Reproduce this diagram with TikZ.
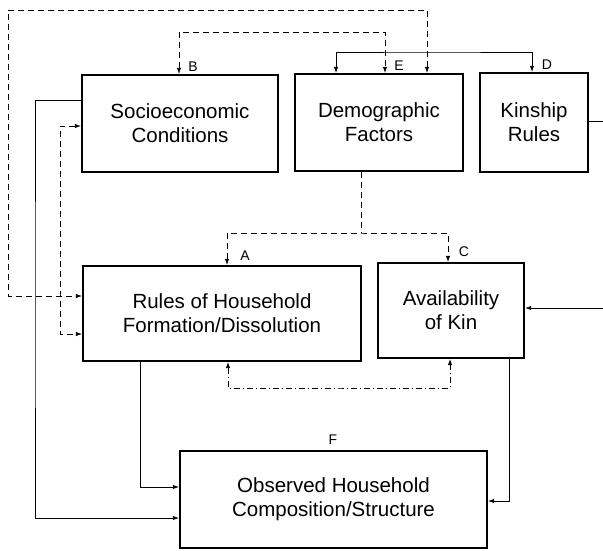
\documentclass[tikz,border=0pt]{standalone}
\usepackage{fontspec}
\setmainfont{Liberation Sans}
\usetikzlibrary{arrows.meta}
\tikzset{
  box/.style={draw, line width=2.2pt, align=center, inner sep=0pt,
    font=\fontsize{20.5}{24}\selectfont},
  tag/.style={font=\fontsize{14}{16}\selectfont, inner sep=0pt},
  dashlink/.style={dash pattern=on 6pt off 4pt},
  dotlink/.style={dash pattern=on 6pt off 3pt on 1pt off 3pt},
}
\begin{document}
\begin{tikzpicture}[x=1pt, y=-1pt, line width=0.8pt, >={Latex[length=6pt,width=4.5pt]}]
\useasboundingbox (0,0) rectangle (603,551);
% boxes
\node[box, minimum width=196pt, minimum height=97pt] (socio) at (180,123.5) {Socioeconomic\\Conditions};
\node[box, minimum width=168pt, minimum height=97pt] (demog) at (379,122.5) {Demographic\\Factors};
\node[box, minimum width=108pt, minimum height=99pt] (kinship) at (534,122.5) {Kinship\\Rules};
\node[box, minimum width=278pt, minimum height=95pt] (rules) at (222,313.5) {Rules of Household\\Formation/Dissolution};
\node[box, minimum width=146pt, minimum height=95pt] (avail) at (451,310.5) {Availability\\of Kin};
\node[box, minimum width=307pt, minimum height=97pt] (observed) at (333.5,499.5) {Observed Household\\Composition/Structure};
% letters
\node[tag] (tagB) at (193,67) {B};
\node[tag] (tagE) at (399,66) {E};
\node[tag] (tagD) at (547,65) {D};
\node[tag] (tagA) at (245,256) {A};
\node[tag] (tagC) at (464,252) {C};
\node[tag] (tagF) at (333,440) {F};
% corners
\coordinate (topleft) at (8,10);
\coordinate (be) at (280,32);
\coordinate (dk) at (430,52);
\coordinate (ac) at (361,233);
\coordinate (bot) at (340,388);
\coordinate (midleft) at (60,230);
\coordinate (farleft) at (35,300);
\coordinate (kinout) at (603,121);
\coordinate (availin) at (603,308);
% dashed links
\draw[dashlink, <->] ([xshift=48pt]demog.north) |- (topleft) |- ([yshift=17.5pt]rules.west);
\draw[dashlink, <->] ([xshift=-1pt]socio.north) |- (be) -| ([xshift=6pt]demog.north);
\draw[dashlink] ([xshift=-18pt]demog.south) -- (ac);
\draw[dashlink, <->] ([xshift=5pt]rules.north) |- (ac) -| ([xshift=-3pt]avail.north);
\draw[dotlink, <->] ([xshift=6pt]rules.south) |- (bot) -| ([xshift=-1pt]avail.south);
\draw[dashlink, <->] ([yshift=-2.5pt]socio.west) -| (midleft) |- ([yshift=-20.5pt]rules.west);
% solid links
\draw[<->] ([xshift=-43pt]demog.north) |- (dk) -| ([xshift=-2pt]kinship.north);
\draw[->] ([yshift=23.5pt]socio.west) -| (farleft) |- ([yshift=-18.5pt]observed.west);
\draw[->] ([xshift=-82pt]rules.south) |- ([yshift=12.5pt]observed.west);
\draw[->] ([xshift=58pt]avail.south) |- ([yshift=-1.5pt]observed.east);
\draw ([yshift=1.5pt]kinship.east) -- (kinout);
\draw[->] (availin) -- ([yshift=2.5pt]avail.east);
\end{tikzpicture}
\end{document}
